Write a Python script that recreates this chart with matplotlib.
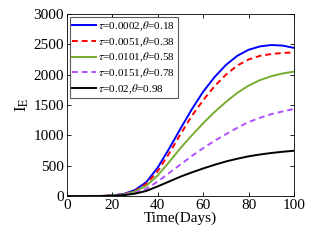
import matplotlib
matplotlib.use('Agg')
import matplotlib.pyplot as plt

plt.rcParams['font.family'] = 'Liberation Serif'
plt.rcParams['mathtext.fontset'] = 'stix'

days = [0, 5, 10, 15, 20, 25, 30, 35, 40, 45, 50, 55, 60, 65, 70, 75, 80, 85, 90, 95, 100]
ie_1 = [0, 0, 0, 2, 10, 35, 100, 230, 470, 780, 1110, 1430, 1720, 1960, 2160, 2310, 2410, 2465, 2488, 2478, 2440]
ie_2 = [0, 0, 0, 2, 10, 30, 85, 200, 410, 700, 1020, 1320, 1580, 1810, 2000, 2150, 2250, 2310, 2340, 2358, 2366]
ie_3 = [0, 0, 0, 2, 9, 28, 75, 170, 340, 560, 790, 1000, 1200, 1385, 1550, 1700, 1820, 1910, 1975, 2020, 2050]
ie_4 = [0, 0, 0, 1, 7, 22, 55, 120, 240, 380, 520, 660, 790, 910, 1020, 1125, 1220, 1290, 1350, 1395, 1435]
ie_5 = [0, 0, 0, 1, 5, 15, 40, 85, 160, 240, 320, 390, 455, 515, 570, 615, 655, 685, 710, 730, 747]

labels = [r'$\tau$=0.0002,$\theta$=0.18',
          r'$\tau$=0.0051,$\theta$=0.38',
          r'$\tau$=0.0101,$\theta$=0.58',
          r'$\tau$=0.0151,$\theta$=0.78',
          r'$\tau$=0.02,$\theta$=0.98']

fig = plt.figure(figsize=(3.18, 2.40), dpi=100)
ax = fig.add_axes([0.21, 0.183, 0.715, 0.759])

ax.plot(days, ie_1, color='#0000ff', lw=1.4, label=labels[0])
ax.plot(days, ie_2, color='#ff0000', lw=1.4, ls=(0, (3, 2)), label=labels[1])
ax.plot(days, ie_3, color='#77ac30', lw=1.4, label=labels[2])
ax.plot(days, ie_4, color='#b050ff', lw=1.4, ls=(0, (3, 2)), label=labels[3])
ax.plot(days, ie_5, color='#000000', lw=1.4, label=labels[4])

ax.set_xlim(0, 100)
ax.set_ylim(0, 3000)
ax.set_xticks([0, 20, 40, 60, 80, 100])
ax.set_yticks([0, 500, 1000, 1500, 2000, 2500, 3000])
ax.tick_params(direction='in', top=True, right=True, length=3, width=0.6,
               labelsize=11, pad=2)
for s in ax.spines.values():
    s.set_linewidth(0.6)

ax.set_xlabel('Time(Days)', fontsize=11, labelpad=0)
ax.set_ylabel(r'I$_{\rm E}$', fontsize=12, labelpad=2)

leg = ax.legend(loc='upper left', fontsize=8, frameon=True, fancybox=False,
                edgecolor='#333333', handlelength=2.1, handletextpad=0.2,
                borderpad=0.25, labelspacing=0.2, borderaxespad=0.25)
leg.get_frame().set_linewidth(0.8)

fig.savefig('out.png', dpi=100)
